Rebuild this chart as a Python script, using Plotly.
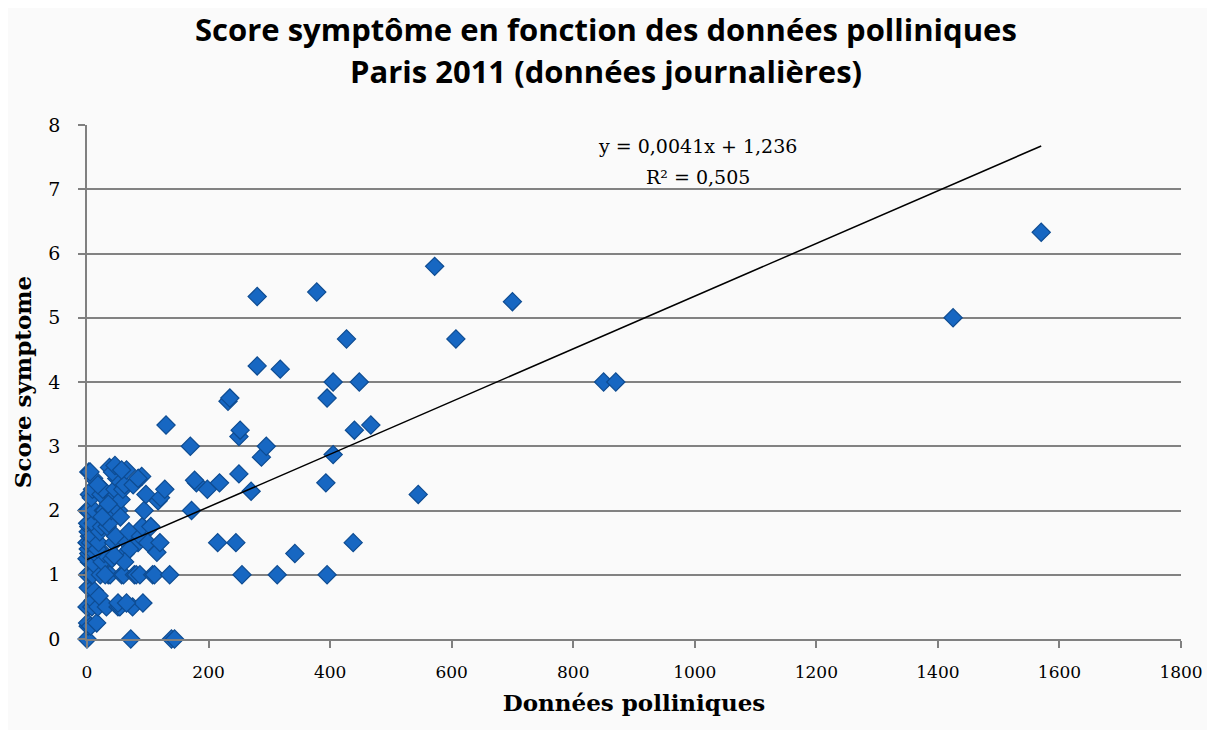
import plotly.graph_objects as go

# ---- data ----
pollen = [
    # dense cluster near zero
    0, 2, 1, 3, 0, 2, 1, 4, 0, 3, 2, 1, 0, 4, 2, 3, 1, 0, 2, 4, 3,
    6, 8, 10, 12, 7, 9, 11, 14, 6, 8, 13, 10, 12, 7, 9, 11,
    16, 18, 20, 22, 25, 28, 17, 19, 21, 24, 27, 29, 23, 26, 18,
    32, 35, 38, 41, 44, 47, 33, 36, 40, 43, 46, 49, 37, 42,
    51, 54, 57, 60, 63, 66, 69, 52, 56, 59, 62, 65,
    72, 75, 78, 81, 84, 88, 91, 94, 97, 76, 85, 90,
    30, 46, 57, 5, 84, 70, 62, 87, 51, 92, 65, 55, 45, 35, 25,
    # x between 100 and 200
    100, 105, 108, 111, 115, 117, 120, 121, 128, 130, 136, 139, 144, 170, 172, 180, 177,
    # x between 200 and 500
    198, 215, 218, 232, 235, 245, 250, 250, 252, 255, 270, 280, 280, 287, 295,
    313, 318, 342, 378, 393, 395, 395, 405, 405, 427, 438, 440, 448, 467,
    # x above 500
    545, 572, 607, 700, 850, 870, 1425, 1570,
]
score = [
    0.0, 0.2, 0.25, 0.5, 0.5, 0.8, 1.0, 1.2, 1.25, 1.33, 1.4, 1.5, 1.5, 1.6, 1.67, 1.75, 1.8, 2.0, 2.0, 2.25, 2.6,
    0.2, 0.5, 0.6, 0.75, 1.0, 1.0, 1.17, 1.33, 1.5, 1.6, 1.75, 1.8, 2.0, 2.2, 2.33, 2.5,
    0.25, 0.5, 0.67, 1.0, 1.2, 1.33, 1.4, 1.5, 1.67, 1.75, 2.0, 2.0, 2.25, 2.33, 2.4,
    0.5, 1.0, 1.0, 1.25, 1.5, 1.6, 1.75, 1.8, 2.0, 2.2, 2.33, 2.5, 2.67, 2.6,
    0.5, 0.5, 1.0, 1.0, 1.33, 1.5, 1.67, 2.0, 2.17, 2.33, 2.4, 2.63,
    0.0, 0.5, 1.0, 1.0, 1.5, 1.6, 1.75, 2.0, 2.25, 2.4, 2.5, 2.53,
    1.0, 2.7, 2.63, 2.6, 2.5, 1.4, 1.2, 1.0, 0.56, 0.56, 0.56, 1.9, 1.3, 2.1, 1.9,
    1.5, 1.75, 1.0, 1.0, 1.35, 2.15, 1.5, 2.2, 2.33, 3.33, 1.0, 0.0, 0.0, 3.0, 2.0, 2.43, 2.47,
    2.33, 1.5, 2.43, 3.7, 3.75, 1.5, 3.15, 2.57, 3.25, 1.0, 2.3, 4.25, 5.33, 2.83, 3.0,
    1.0, 4.2, 1.33, 5.4, 2.43, 3.75, 1.0, 4.0, 2.87, 4.67, 1.5, 3.25, 4.0, 3.33,
    2.25, 5.8, 4.67, 5.25, 4.0, 4.0, 5.0, 6.33,
]
slope = 0.0041
intercept = 1.236
r_squared = "0,505"
x_ticks = [0, 200, 400, 600, 800, 1000, 1200, 1400, 1600, 1800]
y_ticks = [0, 1, 2, 3, 4, 5, 6, 7, 8]

trend_x = [0, max(pollen)]
trend_y = [slope * v + intercept for v in trend_x]

fig = go.Figure()
fig.add_trace(go.Scatter(
    x=pollen, y=score, mode="markers",
    marker=dict(symbol="diamond", size=14, color="#1767C2",
                line=dict(color="#0E4C92", width=1.2)),
    cliponaxis=False, showlegend=False,
))
fig.add_trace(go.Scatter(
    x=trend_x, y=trend_y, mode="lines",
    line=dict(color="black", width=1.5),
    showlegend=False, hoverinfo="skip",
))

serif = "DejaVu Serif, Liberation Serif, serif"
sans = "Open Sans, Lato, sans-serif"

fig.update_layout(
    width=1207, height=722,
    paper_bgcolor="#FAFAFA", plot_bgcolor="rgba(0,0,0,0)",
    margin=dict(l=79, r=30, t=117, b=91),
    xaxis=dict(
        range=[0, 1800], tickvals=x_ticks, ticktext=[str(t) for t in x_ticks],
        showgrid=False, zeroline=False,
        showline=True, linecolor="#808080", linewidth=1.5,
        ticks="outside", ticklen=7, tickcolor="#808080", tickwidth=1.5,
        ticklabelstandoff=10,
        tickfont=dict(family=serif, size=17, color="black"),
        title=dict(text="<b>Données polliniques</b>", font=dict(family=serif, size=23, color="black"), standoff=14),
    ),
    yaxis=dict(
        range=[0, 8], tickvals=y_ticks, ticktext=[str(t) for t in y_ticks],
        showgrid=True, gridcolor="#828282", gridwidth=1.5, zeroline=False,
        showline=True, linecolor="#808080", linewidth=1.5,
        ticks="outside", ticklen=7, tickcolor="#808080", tickwidth=1.5,
        ticklabelstandoff=14,
        tickfont=dict(family=serif, size=19, color="black"),
        title=dict(text="<b>Score symptome</b>", font=dict(family=serif, size=23, color="black"), standoff=10),
    ),
    annotations=[
        dict(text="<b>Score symptôme en fonction des données polliniques</b>",
             x=0.474, y=1.1868, xref="paper", yref="paper", xanchor="center", yanchor="middle",
             showarrow=False, font=dict(family=sans, size=31, color="black")),
        dict(text="<b>Paris 2011 (données journalières)</b>",
             x=0.474, y=1.105, xref="paper", yref="paper", xanchor="center", yanchor="middle",
             showarrow=False, font=dict(family=sans, size=31, color="black")),
        dict(text="y = 0,0041x + 1,236", x=1005, y=7.67, xref="x", yref="y",
             showarrow=False, font=dict(family=serif, size=19, color="black")),
        dict(text="R² = " + r_squared, x=1005, y=7.19, xref="x", yref="y",
             showarrow=False, font=dict(family=serif, size=19, color="black")),
    ],
)

fig.write_html("out.html")
